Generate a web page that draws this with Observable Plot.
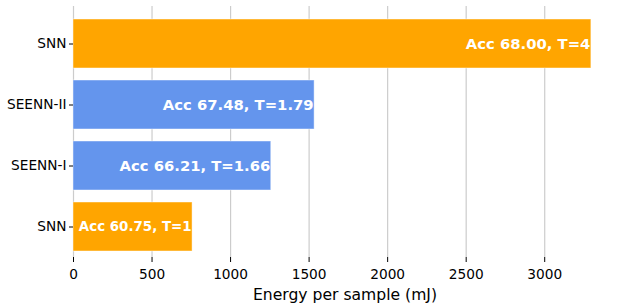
<!DOCTYPE html>
<html>
<head>
<meta charset="utf-8">
<script src="https://cdn.jsdelivr.net/npm/d3@7"></script>
<script src="https://cdn.jsdelivr.net/npm/@observablehq/plot@0.6"></script>
<style>
  html, body { margin: 0; padding: 0; background: #fff; }
  svg { font-family: "DejaVu Sans", sans-serif; }
</style>
</head>
<body>
<div id="chart"></div>
<script>
// Top to bottom
const models = ["SNN", "SEENN-II", "SEENN-I", "SNN"];
const energy = [3297, 1535, 1259, 758];
const barLabels = ["Acc 68.00, T=4", "Acc 67.48, T=1.79", "Acc 66.21, T=1.66", "Acc 60.75, T=1"];
const barColors = ["#FFA500", "#6495ED", "#6495ED", "#FFA500"];
const xTicks = [0, 500, 1000, 1500, 2000, 2500, 3000];
const xLabel = "Energy per sample (mJ)";

const data = models.map((m, i) => ({i, model: m, energy: energy[i], label: barLabels[i], color: barColors[i]}));

const chart = Plot.plot({
  width: 623,
  height: 308,
  marginLeft: 73,
  marginRight: 7,
  marginTop: 6,
  marginBottom: 51,
  style: {fontFamily: "DejaVu Sans, sans-serif", fontSize: "13.7px", color: "#000", background: "#fff"},
  x: {domain: [0, 3457], ticks: xTicks, tickFormat: d => String(d), label: null},
  y: {type: "band", domain: [0, 1, 2, 3], range: [11.9, 257.5], paddingInner: 0.2, paddingOuter: 0.1, tickFormat: i => models[i], label: null},
  marks: [
    Plot.gridX(xTicks, {stroke: "#cccccc", strokeOpacity: 1, strokeWidth: 1.2}),
    Plot.barX(data, {x: "energy", y: "i", fill: "color", stroke: "white", strokeOpacity: 0.45, strokeWidth: 1}),
    Plot.text(data, {x: "energy", y: "i", text: "label", textAnchor: "end", dx: -1, fill: "white", fontWeight: "bold",
      fontSize: d => (d.energy < 1000 ? 13.4 : 14.8)}),
    Plot.axisX({ticks: xTicks, tickSize: 5, tickPadding: 7, stroke: "#000", tickFormat: d => String(d), label: null, fontSize: 13.7}),
    Plot.axisY({tickSize: 4, tickPadding: 3, tickFormat: i => models[i], label: null, fontSize: 13.7}),
    Plot.text([xLabel], {frameAnchor: "bottom", text: d => d, dy: 42, lineAnchor: "bottom", fontSize: 15.6, fill: "#000"})
  ]
});
document.getElementById("chart").appendChild(chart);
</script>
</body>
</html>
